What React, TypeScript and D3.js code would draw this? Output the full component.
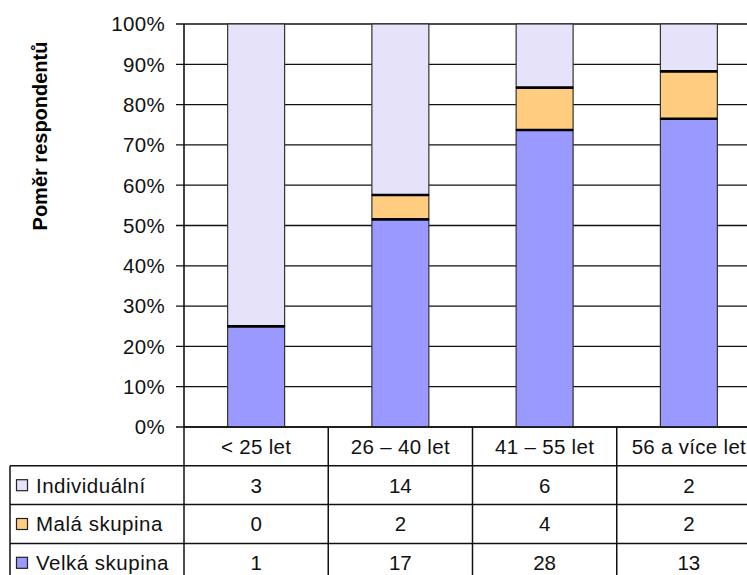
import React from "react";
import * as d3 from "d3";

// Age groups and respondent counts per group type
const categories = ["< 25 let", "26 – 40 let", "41 – 55 let", "56 a více let"];
const seriesNames = ["Individuální", "Malá skupina", "Velká skupina"];
const individualni = [3, 14, 6, 2];
const malaSkupina = [0, 2, 4, 2];
const velkaSkupina = [1, 17, 28, 13];
const yTicks = [0, 0.1, 0.2, 0.3, 0.4, 0.5, 0.6, 0.7, 0.8, 0.9, 1.0];
const colors = ["#E6E2FA", "#FFCC80", "#9999FF"];

const W = 747;
const H = 575;
const FONT = "'Liberation Sans', Arial, sans-serif";

export default function App() {
  const plotLeft = 184;
  const plotRight = 761;
  const plotTop = 24;
  const plotBottom = 427;
  const rowH = 38.8;
  const tableLeft = 10;

  const x = d3.scaleBand<string>().domain(categories).range([plotLeft, plotRight]).padding(0);
  const y = d3.scaleLinear().domain([0, 1]).range([plotBottom, plotTop]);
  const barW = x.bandwidth() * 0.395;

  // stack order bottom→top: Velká, Malá, Individuální
  const rows = categories.map((c, i) => ({
    cat: c,
    velka: velkaSkupina[i],
    mala: malaSkupina[i],
    ind: individualni[i],
  }));
  const stack = d3
    .stack<any>()
    .keys(["velka", "mala", "ind"])
    .offset(d3.stackOffsetExpand);
  const stacked = stack(rows);
  const keyColor: Record<string, string> = { velka: colors[2], mala: colors[1], ind: colors[0] };

  const tableRows = [
    { name: seriesNames[0], values: individualni, color: colors[0] },
    { name: seriesNames[1], values: malaSkupina, color: colors[1] },
    { name: seriesNames[2], values: velkaSkupina, color: colors[2] },
  ];

  return (
    <svg
      width={W}
      height={H}
      style={{ position: "absolute", left: 0, top: 0, background: "#fff", display: "block" }}
      fontFamily={FONT}
    >
      {/* gridlines and ticks */}
      {yTicks.map((t) => (
        <g key={t}>
          <line x1={176} x2={plotRight} y1={y(t)} y2={y(t)} stroke="#111" strokeWidth={1.3} />
          <text x={165} y={y(t)} dy="0.36em" textAnchor="end" fontSize={20.5} letterSpacing={0.3} fill="#111">
            {d3.format(".0%")(t)}
          </text>
        </g>
      ))}
      <line x1={plotLeft} x2={plotLeft} y1={plotTop} y2={plotBottom} stroke="#111" strokeWidth={1.6} />

      {/* stacked bars */}
      {stacked.map((layer) =>
        layer.map((d, i) => {
          const cx = (x(categories[i]) as number) + x.bandwidth() / 2;
          const y0 = y(d[0]);
          const y1 = y(d[1]);
          return (
            <rect
              key={layer.key + i}
              x={cx - barW / 2}
              y={y1}
              width={barW}
              height={Math.max(0, y0 - y1)}
              fill={keyColor[layer.key]}
              stroke="#333"
              strokeWidth={1.2}
            />
          );
        })
      )}
      {/* segment boundaries */}
      {stacked.slice(0, 2).map((layer) =>
        layer.map((d, i) => {
          const cx = (x(categories[i]) as number) + x.bandwidth() / 2;
          return (
            <line
              key={"b" + layer.key + i}
              x1={cx - barW / 2}
              x2={cx + barW / 2}
              y1={y(d[1])}
              y2={y(d[1])}
              stroke="#000"
              strokeWidth={2.6}
            />
          );
        })
      )}

      {/* data table */}
      <g stroke="#111" strokeWidth={1.5}>
        {categories.map((c, i) => (
          <line
            key={"v" + i}
            x1={x(c) as number}
            x2={x(c) as number}
            y1={plotBottom}
            y2={plotBottom + rowH * 4}
          />
        ))}
        <line x1={plotRight} x2={plotRight} y1={plotBottom} y2={plotBottom + rowH * 4} />
        <line x1={plotLeft} x2={plotRight} y1={plotBottom} y2={plotBottom} />
        {[1, 2, 3].map((r) => (
          <line
            key={"h" + r}
            x1={tableLeft}
            x2={plotRight}
            y1={plotBottom + rowH * r}
            y2={plotBottom + rowH * r}
          />
        ))}
        <line x1={tableLeft} x2={tableLeft} y1={plotBottom + rowH} y2={plotBottom + rowH * 4} />
      </g>
      {categories.map((c) => (
        <text
          key={"c" + c}
          x={(x(c) as number) + x.bandwidth() / 2}
          y={plotBottom + rowH / 2}
          dy="0.36em"
          textAnchor="middle"
          fontSize={20.5}
          letterSpacing={0.3}
          fill="#111"
        >
          {c}
        </text>
      ))}
      {tableRows.map((r, ri) => {
        const cy = plotBottom + rowH * (ri + 1) + rowH / 2;
        return (
          <g key={r.name}>
            <rect x={16.5} y={cy - 5.5} width={11} height={11} fill={r.color} stroke="#222" strokeWidth={1.2} />
            <text x={36} y={cy} dy="0.36em" fontSize={20.5} letterSpacing={0.5} fill="#111">
              {r.name}
            </text>
            {r.values.map((v, i) => (
              <text
                key={i}
                x={(x(categories[i]) as number) + x.bandwidth() / 2}
                y={cy}
                dy="0.36em"
                textAnchor="middle"
                fontSize={20.5}
                fill="#111"
              >
                {v}
              </text>
            ))}
          </g>
        );
      })}

      {/* y axis title */}
      <text
        transform={`translate(47,136) rotate(-90)`}
        textAnchor="middle"
        fontSize={20}
        fontWeight="bold"
        fill="#000"
      >
        Poměr respondentů
      </text>
    </svg>
  );
}
